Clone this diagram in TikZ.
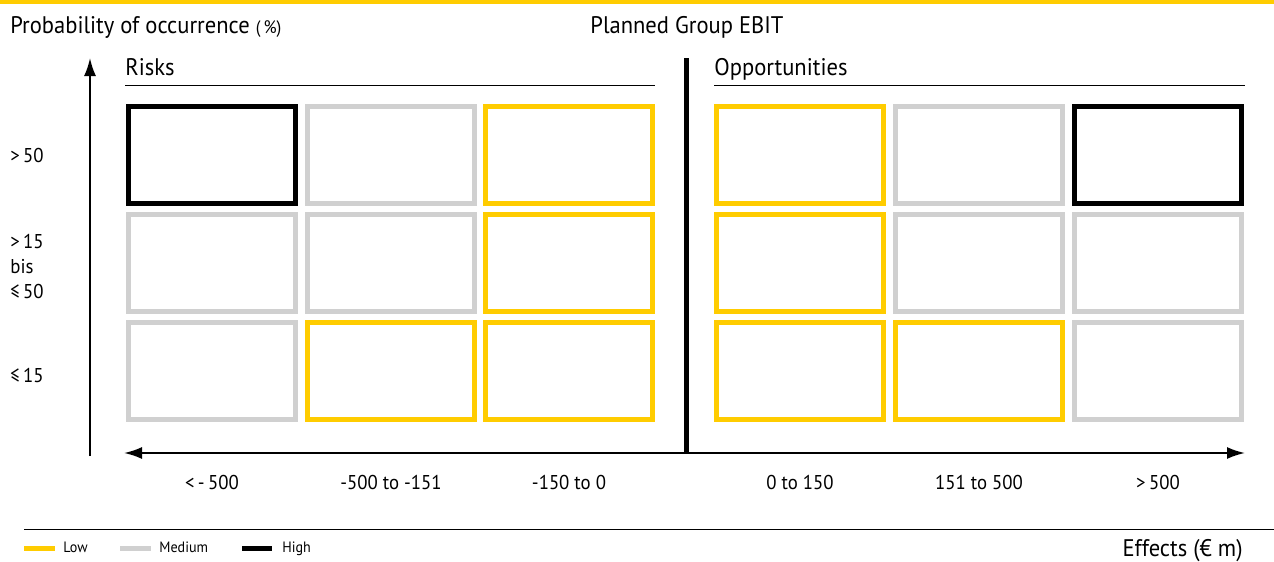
\documentclass[tikz,border=0pt]{standalone}
\usepackage{fontspec}
\setmainfont[FakeStretch=0.94]{PT Sans}
\usetikzlibrary{arrows.meta}
\definecolor{lowyellow}{HTML}{FFCC00}
\definecolor{midgrey}{HTML}{D0D0D0}
\tikzset{axistip/.tip={Latex[length=9pt, width=6pt]}}

\begin{document}
\begin{tikzpicture}[x=0.5pt, y=-0.5pt,
		box/.style={line width=2.5pt, draw=#1},
		head/.style={font=\fontsize{12}{14}\selectfont, inner sep=0pt},
		tick/.style={font=\fontsize{10}{12}\selectfont, inner sep=0pt},
		key/.style={font=\fontsize{7.5}{9}\selectfont, inner sep=0pt, anchor=base west},
		swatch/.style={line width=2.5pt, draw=#1}]
		\useasboundingbox (0,0) rectangle (1274,562);

		% yellow rule on top
		\fill[lowyellow] (0,0) rectangle (1274,4);

		% headings
		\node[head, anchor=base west] (prob) at (10,33) {Probability of occurrence {\fontsize{9}{10}\selectfont(\,\%)}};
		\node[head, anchor=base west] (ebit) at (590,33) {Planned Group EBIT};
		\node[head, anchor=base west] (risks) at (125,75) {Risks};
		\node[head, anchor=base west] (opps) at (714,75) {Opportunities};
		\draw[line width=0.5pt] (125,85) -- (655,85);
		\draw[line width=0.5pt] (714,85) -- (1245,85);

		% probability classes
		\node[tick, anchor=base west] (p1) at (10,162) {>\,50};
		\node[tick, anchor=base west] (p2a) at (10,248) {>\,15};
		\node[tick, anchor=base west] (p2b) at (10,273) {bis};
		\node[tick, anchor=base west] (p2c) at (10,298) {≤\,50};
		\node[tick, anchor=base west] (p3) at (10,382) {≤\,15};

		% boxes, one row at a time
		\foreach \y/\cols in {104/{black,midgrey,lowyellow,lowyellow,midgrey,black},
				212/{midgrey,midgrey,lowyellow,lowyellow,midgrey,midgrey},
				320/{midgrey,lowyellow,lowyellow,lowyellow,lowyellow,midgrey}}
			\foreach \c [count=\i] in \cols {
				\pgfmathsetmacro{\x}{{126,305,483,714,893,1072}[\i-1]}
				\draw[box=\c] (\x+2.5,\y+2.5) rectangle ++(167,97);
			}

		% axes
		\coordinate (ytop) at (90,58);
		\coordinate (ybot) at (90,456);
		\coordinate (xleft) at (124,453);
		\coordinate (xright) at (1245,453);
		\coordinate (divtop) at (686,58);
		\coordinate (divbot) at (686,453);
		\draw[line width=1pt, -{axistip}] (ybot) -- (ytop);
		\draw[line width=1pt, {axistip}-{axistip}] (xleft) -- (xright);
		\draw[line width=2.5pt] (divtop) -- (divbot);

		% effect classes
		\foreach \x/\lab [count=\i] in {212/{<\,-\,500}, 391/{-500 to -151}, 569/{-150 to 0},
				800/{0 to 150}, 979/{151 to 500}, 1158/{>\,500}}
			\node[tick, anchor=base] (e\i) at (\x,489) {\lab};

		% legend
		\draw[line width=0.5pt] (24,529) -- (1274,529);
		\draw[swatch=lowyellow] (24,548) -- (55,548);
		\node[key] (low) at (63,552) {Low};
		\draw[swatch=midgrey] (120,548) -- (151,548);
		\node[key] (medium) at (159,552) {Medium};
		\draw[swatch=black] (242,548) -- (272,548);
		\node[key] (high) at (282,552) {High};
		\node[head, anchor=base east] (effects) at (1243,556) {Effects (€ m)};

	\end{tikzpicture}
\end{document}
